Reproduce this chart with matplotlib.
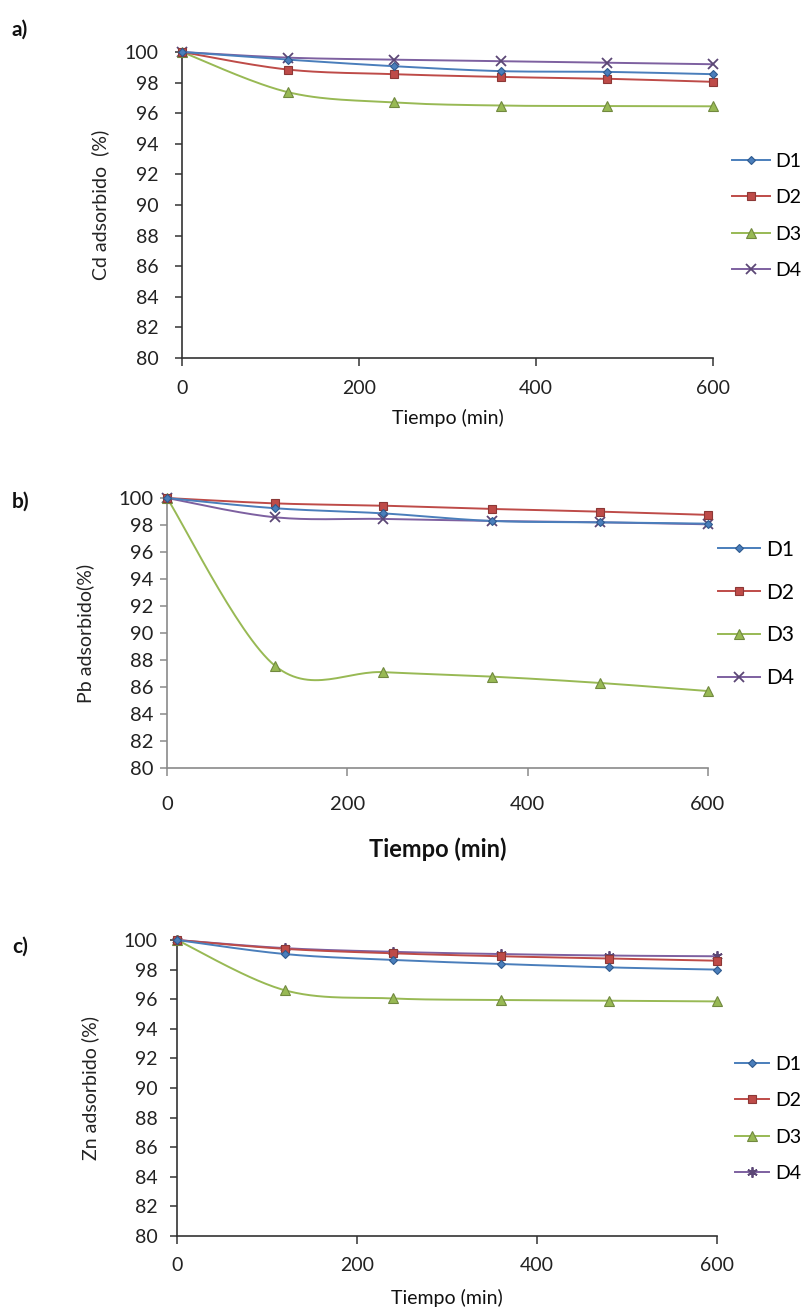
import numpy as np
import matplotlib
matplotlib.use("Agg")
import matplotlib.pyplot as plt

# --------- Data ---------
time = [0, 120, 240, 360, 480, 600]
series = ['D1', 'D2', 'D3', 'D4']

cd_d1 = [100, 99.50, 99.07, 98.75, 98.70, 98.55]
cd_d2 = [100, 98.85, 98.55, 98.37, 98.25, 98.05]
cd_d3 = [100, 97.37, 96.70, 96.50, 96.47, 96.45]
cd_d4 = [100, 99.63, 99.50, 99.40, 99.30, 99.20]

pb_d1 = [100, 99.24, 98.86, 98.30, 98.20, 98.10]
pb_d2 = [100, 99.60, 99.43, 99.19, 98.99, 98.75]
pb_d3 = [100, 87.56, 87.10, 86.77, 86.30, 85.70]
pb_d4 = [100, 98.57, 98.45, 98.30, 98.20, 98.05]

zn_d1 = [100, 99.05, 98.65, 98.38, 98.15, 98.00]
zn_d2 = [100, 99.40, 99.10, 98.90, 98.75, 98.60]
zn_d3 = [100, 96.60, 96.05, 95.95, 95.90, 95.85]
zn_d4 = [100, 99.45, 99.20, 99.05, 98.95, 98.90]

y_ticks = list(range(80, 101, 2))
x_ticks = [0, 200, 400, 600]

# --------- Style ---------
plt.rcParams['font.family'] = ['Lato', 'DejaVu Sans']
colors = ['#4A7EBB', '#BE4B48', '#98B954', '#7D60A0']
edge = ['#2F5A8E', '#8C3836', '#71893F', '#5C4776']
W, H = 812, 1311


# Excel-like smoothed line: cubic Bezier through the points (Catmull-Rom, 1/6)
def smooth(x, y, n=30):
    p = np.column_stack([x, y]).astype(float)
    out = [p[0]]
    for i in range(len(p) - 1):
        p0 = p[i - 1] if i > 0 else p[i]
        p1, p2 = p[i], p[i + 1]
        p3 = p[i + 2] if i + 2 < len(p) else p[i + 1]
        c1 = p1 + (p2 - p0) / 6
        c2 = p2 - (p3 - p1) / 6
        t = np.linspace(0, 1, n + 1)[1:, None]
        seg = ((1 - t) ** 3) * p1 + 3 * ((1 - t) ** 2) * t * c1 \
            + 3 * (1 - t) * t ** 2 * c2 + t ** 3 * p2
        out.extend(seg)
    out = np.array(out)
    return out[:, 0], out[:, 1], list(range(0, len(out), n))


def add_axes(l, r, t, b):
    return fig.add_axes([l / W, 1 - b / H, (r - l) / W, (b - t) / H])


panels = [
    dict(box=(182, 713, 52, 358), data=[cd_d1, cd_d2, cd_d3, cd_d4],
         tag='a)', tag_y=30, ylabel='Cd adsorbido  (%)', ylab_x=100,
         xlab_y=418, xlab_size=14, xlab_bold=False, tick_size=14,
         ypad=12, xpad=10, spine='#333333', d4_marker='x',
         leg=(732, 216), leg_size=14, leg_hl=1.95, leg_ls=1.0),
    dict(box=(167, 708, 498, 768), data=[pb_d1, pb_d2, pb_d3, pb_d4],
         tag='b)', tag_y=502, ylabel='Pb adsorbido(%)', ylab_x=85,
         xlab_y=849, xlab_size=17, xlab_bold=True, tick_size=14.5,
         ypad=5, xpad=14, spine='#8A8A8A', d4_marker='x',
         leg=(718, 614), leg_size=15, leg_hl=2.0, leg_ls=1.1),
    dict(box=(177, 717, 940, 1236), data=[zn_d1, zn_d2, zn_d3, zn_d4],
         tag='c)', tag_y=947, ylabel='Zn adsorbido (%)', ylab_x=90,
         xlab_y=1298, xlab_size=14, xlab_bold=False, tick_size=14,
         ypad=9, xpad=9, spine='#333333', d4_marker=(6, 2, 0),
         leg=(735, 1119), leg_size=14, leg_hl=1.75, leg_ls=1.0),
]

fig = plt.figure(figsize=(W / 100, H / 100), dpi=100)

for p in panels:
    ax = add_axes(*p['box'])
    markers = ['D', 's', '^', p['d4_marker']]
    msizes = [4.5, 5.5, 6.5, 7.5]
    for k, ys in enumerate(p['data']):
        xs_s, ys_s, idx = smooth(time, ys)
        ax.plot(xs_s, ys_s, color=colors[k], lw=1.4, marker=markers[k],
                markevery=idx, ms=msizes[k], mfc=colors[k], mec=edge[k],
                mew=1.3 if k == 3 else 0.8, clip_on=False, label=series[k],
                zorder=3 + (3 - k) * 0.1)
    ax.set_xlim(0, 600)
    ax.set_ylim(80, 100)
    ax.set_xticks(x_ticks)
    ax.set_yticks(y_ticks)
    for s in ['top', 'right']:
        ax.spines[s].set_visible(False)
    for s in ['left', 'bottom']:
        ax.spines[s].set_color(p['spine'])
        ax.spines[s].set_linewidth(1.2)
    ax.tick_params(axis='y', direction='out', length=5, width=1.1,
                   color=p['spine'], labelsize=p['tick_size'],
                   labelcolor='#222222', pad=p['ypad'])
    ax.tick_params(axis='x', direction='out', length=6, width=1.1,
                   color=p['spine'], labelsize=p['tick_size'],
                   labelcolor='#222222', pad=p['xpad'])

    l, r, t, b = p['box']
    fig.text(p['ylab_x'] / W, 1 - (t + b) / 2 / H, p['ylabel'], rotation=90,
             ha='center', va='center', fontsize=14, color='#222222')
    fig.text((l + r) / 2 / W, 1 - p['xlab_y'] / H, 'Tiempo (min)',
             ha='center', va='center', fontsize=p['xlab_size'],
             fontweight='bold' if p['xlab_bold'] else 'normal',
             color='#111111')
    fig.text(12 / W, 1 - p['tag_y'] / H, p['tag'], ha='left', va='center',
             fontsize=15, fontweight='bold', color='#111111')

    ax.legend(loc='center left', bbox_to_anchor=(p['leg'][0] / W, 1 - p['leg'][1] / H),
              bbox_transform=fig.transFigure, frameon=False, borderpad=0,
              borderaxespad=0, handlelength=p['leg_hl'], handletextpad=0.3,
              labelspacing=p['leg_ls'], fontsize=p['leg_size'])

fig.savefig('out.png', dpi=100)
